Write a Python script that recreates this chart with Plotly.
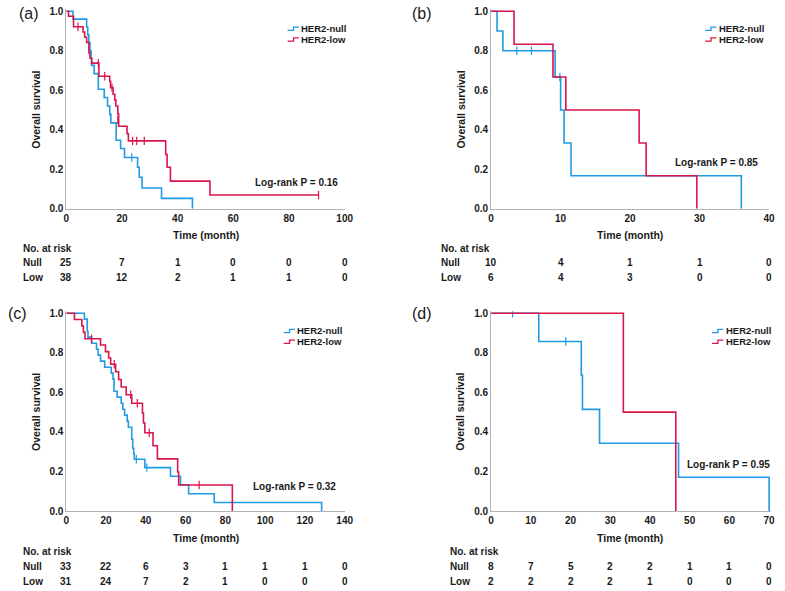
import plotly.graph_objects as go

W, H = 785, 591
FONT = "Liberation Sans, Arial, sans-serif"
BLUE = "#1f9ae3"
RED = "#d9164b"
AXIS = "#b3b3b3"
TXT = "#1a1a1a"

# ---------------- data ----------------
# (a)
a_null_t = [0, 2.4, 7.3, 7.7, 8.1, 8.5, 8.9, 9.1, 10.0, 11.5, 13.6, 14.8, 15.6, 16.0, 17.9, 19.5, 20.9, 25.6, 26.2, 27.2, 34.2, 45.3]
a_null_s = [1.0, 0.96, 0.92, 0.88, 0.84, 0.80, 0.76, 0.726, 0.684, 0.605, 0.563, 0.52, 0.478, 0.435, 0.347, 0.305, 0.26, 0.21, 0.16, 0.105, 0.053, 0.0]
a_null_cens_t = [23.5]
a_null_cens_s = [0.26]
a_low_t = [0, 0.8, 2.6, 6.0, 6.6, 7.3, 8.1, 8.5, 9.1, 11.7, 15.6, 15.9, 16.8, 17.4, 17.8, 18.5, 18.8, 21.8, 22.3, 35.7, 36.2, 37.4, 51.6, 90.6]
a_low_s = [1.0, 0.974, 0.921, 0.895, 0.868, 0.842, 0.789, 0.763, 0.737, 0.671, 0.645, 0.613, 0.58, 0.55, 0.52, 0.48, 0.418, 0.38, 0.344, 0.275, 0.21, 0.14, 0.07, 0.07]
a_low_cens_t = [4.2, 11.5, 13.8, 16.4, 18.5, 23.8, 25.3, 28.0, 90.6]
a_low_cens_s = [0.921, 0.737, 0.671, 0.613, 0.45, 0.344, 0.344, 0.344, 0.07]
a_risk_null = [25, 7, 1, 0, 0, 0]
a_risk_low = [38, 12, 2, 1, 1, 0]

# (b)
b_null_t = [0, 0.85, 1.7, 9.2, 10.0, 10.5, 11.5, 36.0]
b_null_s = [1.0, 0.9, 0.8, 0.667, 0.5, 0.333, 0.167, 0.0]
b_null_cens_t = [3.7, 5.8, 9.9]
b_null_cens_s = [0.8, 0.8, 0.667]
b_low_t = [0, 3.3, 8.9, 10.75, 21.3, 22.3, 29.6]
b_low_s = [1.0, 0.833, 0.667, 0.5, 0.333, 0.167, 0.0]
b_low_cens_t = []
b_low_cens_s = []
b_risk_null = [10, 4, 1, 1, 0]
b_risk_low = [6, 4, 3, 0, 0]

# (c)
c_null_t = [0, 9.1, 10.5, 10.9, 12.7, 15.2, 16.0, 17.2, 19.3, 22.6, 23.5, 24.0, 25.6, 27.6, 28.4, 29.3, 30.6, 31.2, 32.9, 33.4, 33.9, 34.2, 39.5, 52.4, 57.4, 61.5, 74.4, 128.4]
c_null_s = [1.0, 0.97, 0.909, 0.879, 0.848, 0.818, 0.788, 0.758, 0.727, 0.697, 0.667, 0.606, 0.576, 0.545, 0.515, 0.485, 0.455, 0.424, 0.364, 0.318, 0.29, 0.262, 0.22, 0.176, 0.133, 0.088, 0.044, 0.0]
c_null_cens_t = [35.2, 40.5]
c_null_cens_s = [0.262, 0.22]
c_low_t = [0, 4.1, 7.8, 8.6, 9.4, 17.2, 19.7, 21.3, 22.3, 24.8, 26.3, 27.6, 30.1, 32.9, 38.3, 38.8, 39.5, 43.6, 45.8, 56.0, 56.5, 83.5]
c_low_s = [1.0, 0.968, 0.935, 0.903, 0.871, 0.839, 0.806, 0.774, 0.742, 0.704, 0.665, 0.627, 0.588, 0.545, 0.495, 0.445, 0.396, 0.33, 0.264, 0.198, 0.132, 0.0]
c_low_cens_t = [12.7, 24.1, 32.4, 35.7, 41.7, 66.8]
c_low_cens_s = [0.871, 0.742, 0.588, 0.545, 0.396, 0.132]
c_risk_null = [33, 22, 6, 3, 1, 1, 1, 0]
c_risk_low = [31, 24, 7, 2, 1, 0, 0, 0]

# (d)
d_null_t = [0, 12.0, 22.7, 23.0, 27.3, 47.2, 70.0]
d_null_s = [1.0, 0.857, 0.686, 0.514, 0.343, 0.171, 0.0]
d_null_cens_t = [5.4, 18.8]
d_null_cens_s = [1.0, 0.857]
d_low_t = [0, 33.3, 46.5]
d_low_s = [1.0, 0.5, 0.0]
d_low_cens_t = []
d_low_cens_s = []
d_risk_null = [8, 7, 5, 2, 2, 1, 1, 0]
d_risk_low = [2, 2, 2, 2, 1, 0, 0, 0]

pvals = ["Log-rank P = 0.16", "Log-rank P = 0.85", "Log-rank P = 0.32", "Log-rank P = 0.95"]
labels = ["(a)", "(b)", "(c)", "(d)"]

# ---------------- layout geometry (pixels) ----------------
panels = [
    dict(lab="(a)", L=64.3, R=347.0, T=8.3, B=209.0, tmax=100, dt=20, rmax=100,
         null=(a_null_t, a_null_s, a_null_cens_t, a_null_cens_s),
         low=(a_low_t, a_low_s, a_low_cens_t, a_low_cens_s),
         rn=a_risk_null, rl=a_risk_low, p=pvals[0], pxy=(298, 182),
         leg=(301, 26), risk_x=18, risk_y=(249, 264, 279), title_y=236, lab_xy=(14, 11)),
    dict(lab="(b)", L=495.7, R=778.0, T=8.3, B=209.0, tmax=40, dt=10, rmax=40,
         null=(b_null_t, b_null_s, b_null_cens_t, b_null_cens_s),
         low=(b_low_t, b_low_s, b_low_cens_t, b_low_cens_s),
         rn=b_risk_null, rl=b_risk_low, p=pvals[1], pxy=(725, 162),
         leg=(725, 26), risk_x=443, risk_y=(249, 264, 279), title_y=236, lab_xy=(413, 11)),
    dict(lab="(c)", L=64.3, R=347.0, T=315.0, B=516.0, tmax=140, dt=20, rmax=140,
         null=(c_null_t, c_null_s, c_null_cens_t, c_null_cens_s),
         low=(c_low_t, c_low_s, c_low_cens_t, c_low_cens_s),
         rn=c_risk_null, rl=c_risk_low, p=pvals[2], pxy=(296, 491),
         leg=(297, 333), risk_x=18, risk_y=(557, 572, 587), title_y=543, lab_xy=(3, 315)),
    dict(lab="(d)", L=495.7, R=778.0, T=315.0, B=516.0, tmax=70, dt=10, rmax=70.4,
         null=(d_null_t, d_null_s, d_null_cens_t, d_null_cens_s),
         low=(d_low_t, d_low_s, d_low_cens_t, d_low_cens_s),
         rn=d_risk_null, rl=d_risk_low, p=pvals[3], pxy=(737, 469),
         leg=(732, 333), risk_x=452, risk_y=(557, 572, 587), title_y=543, lab_xy=(413, 315)),
]

YMAX = 1.01


def px(x):
    return x / W


def py(y):
    return 1 - y / H


fig = go.Figure()
annotations = []
shapes = []

for i, p in enumerate(panels):
    k = "" if i == 0 else str(i + 1)
    xa, ya = "x" + k, "y" + k
    span_x = (p["R"] - p["L"])
    x_right = p["L"] + span_x * p["rmax"] / p["tmax"]
    span_y = p["B"] - p["T"]
    y_top = p["B"] - span_y * YMAX

    fig.update_layout(**{
        "xaxis" + k: dict(domain=[px(p["L"]), px(x_right)], range=[0, p["rmax"]],
                          anchor=ya, showline=True, linecolor=AXIS, linewidth=1,
                          showgrid=False, zeroline=False, ticks="", ticklen=0,
                          tick0=0, dtick=p["dt"],
                          tickfont=dict(family=FONT, size=10, color=TXT, weight="bold")),
        "yaxis" + k: dict(domain=[py(p["B"]), py(y_top)], range=[0, YMAX],
                          anchor=xa, showline=True, linecolor=AXIS, linewidth=1,
                          showgrid=False, zeroline=False, ticks="", ticklen=0,
                          tickvals=[0, 0.2, 0.4, 0.6, 0.8, 1.0], tickformat=".1f",
                          tickfont=dict(family=FONT, size=10, color=TXT, weight="bold")),
    })

    for grp, col in (("null", BLUE), ("low", RED)):
        t, s, ct, cs = p[grp]
        fig.add_trace(go.Scatter(x=t, y=s, mode="lines", line=dict(color=col, width=1.6, shape="hv"),
                                 xaxis=xa, yaxis=ya, showlegend=False, hoverinfo="skip"))
        if ct:
            fig.add_trace(go.Scatter(x=ct, y=cs, mode="markers",
                                     marker=dict(symbol="line-ns-open", size=6, color=col,
                                                 line=dict(color=col, width=1.2)),
                                     xaxis=xa, yaxis=ya, showlegend=False, hoverinfo="skip"))

    # panel label
    annotations.append(dict(text=p["lab"], x=px(p["lab_xy"][0]), y=py(p["lab_xy"][1]), xref="paper", yref="paper",
                            xanchor="left", yanchor="middle", showarrow=False,
                            font=dict(family=FONT, size=16, color=TXT)))
    # axis titles
    annotations.append(dict(text="<b>Overall survival</b>", x=px(p["L"] - 31), y=py((p["T"] + p["B"]) / 2),
                            xref="paper", yref="paper", textangle=-90, showarrow=False,
                            xanchor="center", yanchor="middle", font=dict(family=FONT, size=10.5, color=TXT)))
    annotations.append(dict(text="<b>Time (month)</b>", x=px((p["L"] + p["R"]) / 2), y=py(p["title_y"]),
                            xref="paper", yref="paper", showarrow=False,
                            xanchor="center", yanchor="middle", font=dict(family=FONT, size=10.5, color=TXT)))
    # log-rank
    annotations.append(dict(text="<b>" + p["p"] + "</b>", x=px(p["pxy"][0]), y=py(p["pxy"][1]),
                            xref="paper", yref="paper", showarrow=False,
                            xanchor="center", yanchor="middle", font=dict(family=FONT, size=10, color=TXT)))
    # legend
    lx, ly = p["leg"]
    for j, (name, col) in enumerate((("HER2-null", BLUE), ("HER2-low", RED))):
        yy = ly + j * 11
        annotations.append(dict(text="<b>" + name + "</b>", x=px(lx), y=py(yy), xref="paper", yref="paper",
                                showarrow=False, xanchor="left", yanchor="middle",
                                font=dict(family=FONT, size=9.5, color=TXT)))
        path = "M {} {} L {} {} L {} {} L {} {}".format(
            px(lx - 12), py(yy + 1.7), px(lx - 6), py(yy + 1.7), px(lx - 6), py(yy - 1.6), px(lx - 0.5), py(yy - 1.6))
        shapes.append(dict(type="path", path=path, xref="paper", yref="paper",
                           line=dict(color=col, width=1.3)))
    # risk table
    ry0, ry1, ry2 = p["risk_y"]
    annotations.append(dict(text="<b>No. at risk</b>", x=px(p["risk_x"]), y=py(ry0), xref="paper", yref="paper",
                            showarrow=False, xanchor="left", yanchor="middle",
                            font=dict(family=FONT, size=10, color=TXT)))
    for lab, vals, yy in (("Null", p["rn"], ry1), ("Low", p["rl"], ry2)):
        annotations.append(dict(text="<b>" + lab + "</b>", x=px(p["risk_x"]), y=py(yy), xref="paper", yref="paper",
                                showarrow=False, xanchor="left", yanchor="middle",
                                font=dict(family=FONT, size=10, color=TXT)))
        for m, v in enumerate(vals):
            annotations.append(dict(text="<b>%d</b>" % v, x=m * p["dt"], y=py(yy), xref=xa, yref="paper",
                                    showarrow=False, xanchor="center", yanchor="middle",
                                    font=dict(family=FONT, size=10, color=TXT)))

fig.update_layout(width=W, height=H, margin=dict(l=0, r=0, t=0, b=0),
                  paper_bgcolor="white", plot_bgcolor="white",
                  annotations=annotations, shapes=shapes, showlegend=False,
                  font=dict(family=FONT, color=TXT))

fig.write_html("out.html", config={"displayModeBar": False},
               post_script="document.body.style.margin='0px';document.body.style.padding='0px';")
